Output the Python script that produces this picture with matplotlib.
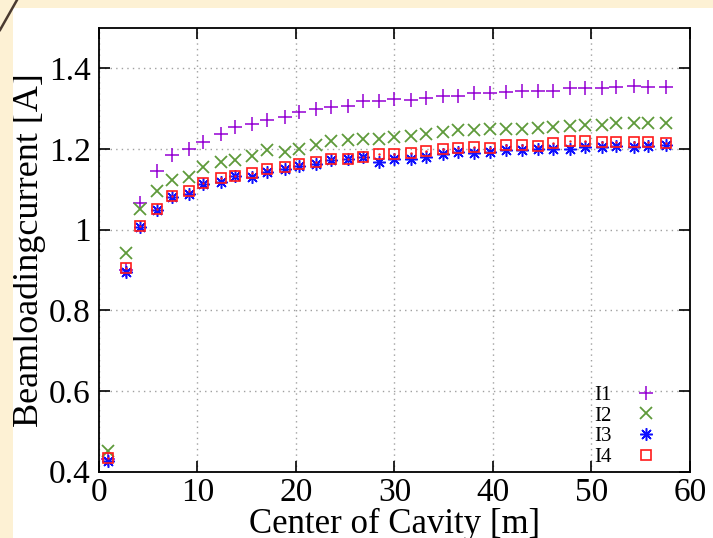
import numpy as np
import matplotlib
matplotlib.use("Agg")
from matplotlib import pyplot as plt
from matplotlib.lines import Line2D
from matplotlib.patches import Rectangle

plt.rcParams['font.family'] = ['Liberation Serif', 'DejaVu Serif']

# cavity centre positions [m]
pos = [0.94, 2.74, 4.15, 5.85, 7.43, 9.12, 10.57, 12.36, 13.78, 15.57, 17.05, 18.84,
       20.29, 21.99, 23.58, 25.26, 26.78, 28.47, 29.99, 31.68, 33.2, 34.95, 36.4, 38.1,
       39.69, 41.37, 42.93, 44.61, 46.1, 47.85, 49.31, 51.09, 52.51, 54.31, 55.75, 57.52]

i1 = [0.432, 0.900, 1.066, 1.145, 1.186, 1.201, 1.218, 1.238, 1.255, 1.263, 1.272, 1.279,
      1.291, 1.299, 1.304, 1.307, 1.319, 1.319, 1.324, 1.321, 1.326, 1.332, 1.332, 1.338,
      1.338, 1.341, 1.343, 1.343, 1.343, 1.351, 1.351, 1.351, 1.353, 1.357, 1.353, 1.353]
i2 = [0.452, 0.942, 1.051, 1.097, 1.124, 1.131, 1.156, 1.169, 1.172, 1.182, 1.197, 1.192,
      1.199, 1.210, 1.221, 1.222, 1.224, 1.224, 1.230, 1.232, 1.238, 1.241, 1.247, 1.247,
      1.249, 1.249, 1.249, 1.253, 1.255, 1.257, 1.260, 1.260, 1.265, 1.265, 1.265, 1.265]
i3 = [0.427, 0.896, 1.006, 1.050, 1.080, 1.089, 1.114, 1.119, 1.133, 1.130, 1.142, 1.151,
      1.157, 1.163, 1.172, 1.174, 1.180, 1.168, 1.176, 1.176, 1.180, 1.188, 1.192, 1.189,
      1.193, 1.197, 1.197, 1.199, 1.199, 1.201, 1.204, 1.206, 1.207, 1.204, 1.207, 1.209]
i4 = [0.433, 0.904, 1.010, 1.052, 1.083, 1.097, 1.116, 1.127, 1.134, 1.141, 1.151, 1.156,
      1.163, 1.167, 1.174, 1.174, 1.180, 1.188, 1.188, 1.191, 1.195, 1.201, 1.203, 1.206,
      1.203, 1.209, 1.210, 1.207, 1.214, 1.219, 1.219, 1.218, 1.218, 1.218, 1.218, 1.216]

xticks = [0, 10, 20, 30, 40, 50, 60]
yticks = [0.4, 0.6, 0.8, 1.0, 1.2, 1.4]
ytick_labels = ['0.4', '0.6', '0.8', '1', '1.2', '1.4']

fig = plt.figure(figsize=(7.13, 5.38), dpi=100)
fig.patch.set_facecolor('white')

# beige slide frame top / left with the dark diagonal stroke
beige = '#fdf1d4'
fig.patches.append(Rectangle((0, 1 - 8 / 538), 1, 8 / 538, transform=fig.transFigure,
                             facecolor=beige, edgecolor='none', zorder=0))
fig.patches.append(Rectangle((0, 0), 13 / 713, 1, transform=fig.transFigure,
                             facecolor=beige, edgecolor='none', zorder=0))
fig.lines.append(Line2D([0, 17 / 713], [1 - 30 / 538, 1], transform=fig.transFigure,
                        color='#4a3a30', lw=1.8))

ax = fig.add_axes([99 / 713, 1 - 471.7 / 538, 591 / 713, 443.7 / 538])

ax.plot(pos, i1, ls='none', marker='+', ms=10, mew=1.1, color='#9400d3', label='I1')
ax.plot(pos, i2, ls='none', marker='x', ms=8, mew=1.3, color='#5e9a3a', label='I2')
ax.plot(pos, i3, ls='none', marker=(8, 2, 0), ms=9, mew=1.1, color='#1010ff', label='I3')
ax.plot(pos, i4, ls='none', marker='s', ms=7.5, mew=1.2, mfc='none', color='#ff1a1a', label='I4')
ax.plot(pos, i4, ls='none', marker='.', ms=1.5, color='#ff1a1a')

ax.set_xlim(0, 60)
ax.set_ylim(0.4, 1.5)
ax.set_xticks(xticks)
ax.set_yticks(yticks)
ax.set_yticklabels(ytick_labels)
ax.tick_params(direction='in', length=8, width=1.2, top=True, right=True,
               labelsize=24, pad=6)
ax.tick_params(axis='x', pad=4)
ax.grid(True, ls=(0, (1, 3)), color='#a0a0a0', lw=1)
for s in ax.spines.values():
    s.set_linewidth(1.3)

ax.set_xlabel('Center of Cavity [m]', fontsize=25, labelpad=0)
ax.set_ylabel('Beamloadingcurrent [A]', fontsize=26, labelpad=2)

handles = [Line2D([], [], ls='none', marker='+', ms=10, mew=1.1, color='#9400d3'),
           Line2D([], [], ls='none', marker='x', ms=8, mew=1.3, color='#5e9a3a'),
           Line2D([], [], ls='none', marker=(8, 2, 0), ms=9, mew=1.1, color='#1010ff'),
           Line2D([], [], ls='none', marker='s', ms=7.5, mew=1.2, mfc='none', color='#ff1a1a')]
ax.legend(handles, ['I1', 'I2', 'I3', 'I4'], loc='lower right', bbox_to_anchor=(0.977, -0.022),
          frameon=False, markerfirst=False, fontsize=15, handlelength=1.5,
          handletextpad=0.9, labelspacing=0.05, borderaxespad=0.3)

fig.savefig('out.png', dpi=100)
